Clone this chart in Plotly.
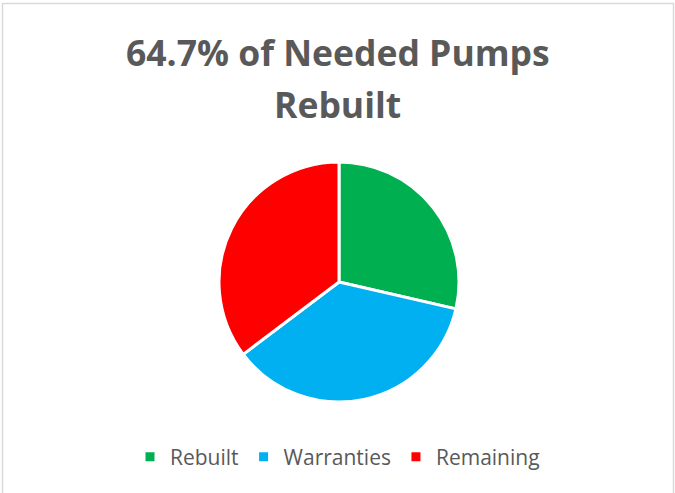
import plotly.graph_objects as go

# share of needed pumps
categories = ['Rebuilt', 'Warranties', 'Remaining']
shares = [28.6, 36.1, 35.3]
colors = ['#00B050', '#00B0F0', '#FF0000']

title_lines = ['64.7% of Needed Pumps', 'Rebuilt']

W, H = 675, 493
font = 'Open Sans'
grey = '#595959'

fig = go.Figure(go.Pie(
    labels=categories,
    values=shares,
    sort=False,
    direction='clockwise',
    rotation=0,
    marker=dict(colors=colors, line=dict(color='white', width=3)),
    textinfo='none',
    hoverinfo='label+percent',
    domain=dict(x=[219 / W, 459 / W], y=[1 - 402 / H, 1 - 162 / H]),
))

# two title lines placed separately to match the wide line gap
for i, line in enumerate(title_lines):
    fig.add_annotation(text='<b>' + line + '</b>', x=0.5, xref='paper', xanchor='center',
                       y=1 - (52 + i * 52) / H, yref='paper', yanchor='middle',
                       showarrow=False, font=dict(family=font, size=35.5, color=grey))

# light chart-area border (bottom edge runs off the picture)
fig.add_shape(type='rect', xref='paper', yref='paper', x0=2.5 / W, x1=673.5 / W,
              y0=-0.05, y1=1 - 3.5 / H, line=dict(color='#D9D9D9', width=1.5))

fig.update_layout(
    width=W, height=H,
    margin=dict(l=0, r=0, t=0, b=0),
    paper_bgcolor='white',
    plot_bgcolor='white',
    showlegend=True,
    legend=dict(orientation='h', x=0.5, xanchor='center', y=1 - 457 / H, yanchor='middle',
                font=dict(family=font, size=21, color=grey), itemclick=False),
)

# drop the default page margin so the figure sits at the window corner
fig.write_html('out.html', config={'displayModeBar': False},
               post_script="document.body.style.margin='0';")
